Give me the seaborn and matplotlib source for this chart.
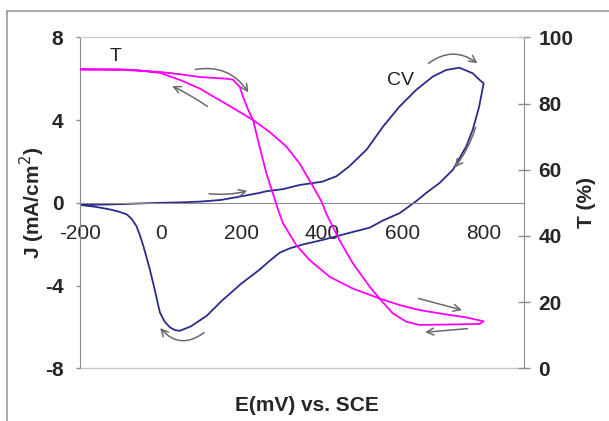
import numpy as np
import pandas as pd
import matplotlib
matplotlib.use("Agg")
import matplotlib.pyplot as plt
from matplotlib.lines import Line2D
import seaborn as sns

# %%
# CV loop (E in mV, J in mA/cm2): forward scan then reverse scan
cv_fwd_e = [-200, -126, -50, 0, 50, 100, 150, 196, 245, 262, 303, 344, 400, 435,
            467, 510, 551, 592, 633, 674, 707, 740, 773, 790, 800]
cv_fwd_j = [-0.1, -0.08, -0.03, 0.0, 0.02, 0.06, 0.14, 0.3, 0.48, 0.56, 0.66, 0.86,
            1.02, 1.28, 1.76, 2.57, 3.69, 4.66, 5.46, 6.1, 6.42, 6.53, 6.26, 5.94, 5.78]
cv_rev_e = [789, 773, 757, 724, 691, 658, 633, 592, 551, 518, 468, 435, 400, 353, 320,
            295, 270, 245, 200, 150, 114, 75, 47, 35, 23, 10, -2, -8, -15, -27, -35,
            -43, -52, -60, -72, -84, -105, -126, -160, -200]
cv_rev_j = [4.66, 3.53, 2.73, 1.6, 0.96, 0.48, 0.08, -0.5, -0.85, -1.2, -1.45, -1.62,
            -1.8, -2.01, -2.2, -2.41, -2.8, -3.23, -3.9, -4.76, -5.46, -5.97, -6.19,
            -6.15, -6.02, -5.75, -5.3, -4.8, -4.18, -3.22, -2.65, -2.09, -1.55, -1.13,
            -0.78, -0.56, -0.42, -0.32, -0.2, -0.1]

# transmittance loop (T in %)
t_fwd_e = [-200, -100, 0, 50, 97, 163, 179, 196, 204, 217, 229, 245, 262, 278, 291,
           303, 336, 369, 419, 476, 542, 592, 641, 700, 756, 800]
t_fwd_t = [90.3, 90.2, 89.5, 88.8, 88.0, 87.5, 87.2, 85.0, 82.0, 78.0, 75.0, 66.9,
           58.8, 52.8, 47.8, 43.8, 37.2, 32.7, 27.6, 24.1, 21.1, 19.1, 17.6, 16.4,
           15.4, 14.2]
t_rev_e = [790, 700, 641, 608, 575, 542, 518, 476, 443, 411, 398, 377, 344, 312, 270,
           229, 188, 146, 97, 50, 0, -50, -100, -200]
t_rev_t = [13.4, 13.2, 13.1, 14.1, 16.6, 21.1, 24.6, 31.7, 38.7, 46.5, 50.5, 55.0,
           61.9, 66.9, 71.4, 75.0, 78.0, 81.0, 84.5, 87.0, 89.2, 90.0, 90.3, 90.3]

e_ticks = [-200, 0, 200, 400, 600, 800]
j_ticks = [-8, -4, 0, 4, 8]
t_ticks = [0, 20, 40, 60, 80, 100]

# %%
cv_df = pd.DataFrame({"E": cv_fwd_e + cv_rev_e, "J": cv_fwd_j + cv_rev_j})
t_df = pd.DataFrame({"E": t_fwd_e + t_rev_e, "T": t_fwd_t + t_rev_t})

sns.set_style("white")
plt.rcParams['font.family'] = ['Liberation Sans', 'DejaVu Sans']
plt.rcParams['axes.unicode_minus'] = False

blue = "#2B2B8C"
pink = "#FF00FF"
arrow_c = "#6A6A6A"
spine_c = "#8C8C8C"
frame_c = "#C8C8C8"

fig = plt.figure(figsize=(6.09, 4.21), dpi=100)
ax = fig.add_axes([80 / 609, 1 - 368.3 / 421, 444 / 609, 331 / 421])

sns.lineplot(data=cv_df, x="E", y="J", sort=False, estimator=None,
             color=blue, lw=1.3, ax=ax)
ax.set_xlim(-200, 900)
ax.set_ylim(-8, 8)

ax2 = ax.twinx()
sns.lineplot(data=t_df, x="E", y="T", sort=False, estimator=None,
             color=pink, lw=1.3, ax=ax2)
ax2.set_ylim(0, 100)

# axes / spines
ax.spines['bottom'].set_position(('data', 0))
ax.spines['bottom'].set_color(spine_c)
ax.spines['left'].set_color(spine_c)
ax.spines['right'].set_visible(False)
ax.spines['top'].set_visible(False)
ax2.spines['bottom'].set_visible(False)
ax2.spines['left'].set_visible(False)
ax2.spines['top'].set_color(frame_c)
ax2.spines['right'].set_color(spine_c)
ax.axhline(-8, color=frame_c, lw=1, clip_on=False)

ax.set_xticks(e_ticks)
ax.set_xticklabels([str(v) for v in e_ticks], fontsize=15)
ax.set_yticks(j_ticks)
ax.set_yticklabels([str(v) for v in j_ticks], fontsize=15, fontweight='bold')
ax2.set_yticks(t_ticks)
ax2.set_yticklabels([str(v) for v in t_ticks], fontsize=15, fontweight='bold')

ax.tick_params(axis='x', direction='out', length=5, width=1, color=spine_c, pad=10)
ax.tick_params(axis='y', direction='out', length=3, width=1, color=spine_c, pad=9)
ax2.tick_params(axis='y', direction='inout', length=9, width=1, color=spine_c, pad=6)

ax.set_xlabel("E(mV) vs. SCE", fontsize=15, fontweight='bold')
ax.xaxis.set_label_coords(0.51, -0.084)
ax.set_ylabel("J (mA/cm$^2$)", fontsize=15, fontweight='bold')
ax.yaxis.set_label_coords(-0.074, 0.5)
ax2.set_ylabel("T (%)", fontsize=15, fontweight='bold')
ax2.yaxis.set_label_coords(1.12, 0.5)

# curve labels
ax.text(-111, 7.05, "T", fontsize=14, ha='center', va='center', color='#222222')
ax.text(594, 5.9, "CV", fontsize=14, ha='center', va='center', color='#222222')

# scan direction arrows
arrows = [
    ((79, 6.42), (221, 5.22), -0.35),
    ((121, 4.58), (22, 5.70), 0.05),
    ((113, 0.45), (221, 0.61), 0.1),
    ((658, 6.66), (790, 6.66), -0.4),
    ((782, 3.77), (724, 1.60), -0.1),
    ((632, -4.59), (753, -5.22), 0.0),
    ((767, -6.07), (648, -6.27), 0.0),
    ((113, -6.19), (-6, -5.95), -0.5),
]
for start, end, rad in arrows:
    ax.annotate("", xy=end, xytext=start,
                arrowprops=dict(arrowstyle="->,head_length=0.5,head_width=0.25",
                                color=arrow_c, lw=1.1,
                                connectionstyle=f"arc3,rad={rad}"))

# outer frame of the chart object
fig.add_artist(Line2D([7 / 609, 7 / 609], [0, 1 - 11 / 421],
                      transform=fig.transFigure, color="#9A9A9A", lw=1.2))
fig.add_artist(Line2D([7 / 609, 1], [1 - 11 / 421, 1 - 11 / 421],
                      transform=fig.transFigure, color="#9A9A9A", lw=1.2))

plt.savefig("out.png", dpi=100)
plt.close()
